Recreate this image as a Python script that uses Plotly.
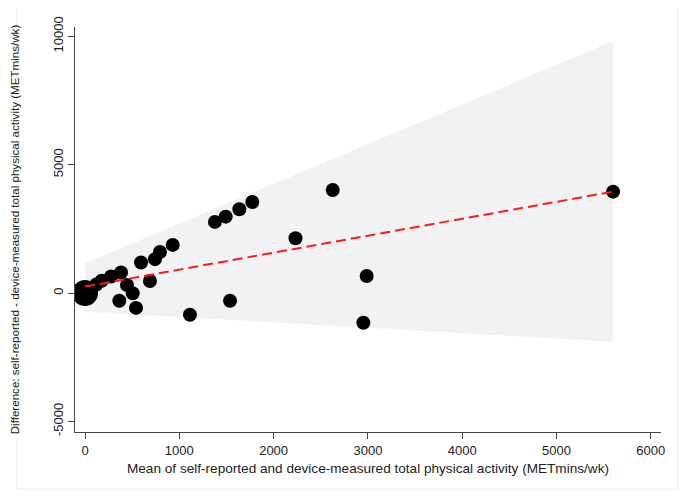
import plotly.graph_objects as go

# ---- data ----
mean_pa = [120, 177, 276, 382, 445, 506, 364, 541, 594, 689, 742, 795, 930,
           1113, 1378, 1492, 1538, 1637, 1774, 2232, 2627, 2952, 2987, 5600]
diff_pa = [330, 480, 640, 800, 310, -12, -305, -580, 1190, 468, 1320, 1600, 1875,
           -845, 2770, 2975, -305, 3262, 3546, 2132, 4014, -1157, 663, 3950]

big_mean = [0]
big_diff = [0]

band_x = [0, 5600]
band_upper = [1160, 9820]
band_lower = [-730, -1900]

fit_x = [0, 5600]
fit_y = [250, 3950]

x_ticks = [0, 1000, 2000, 3000, 4000, 5000, 6000]
x_tick_labels = ["0", "1000", "2000", "3000", "4000", "5000", "6000"]
y_ticks = [-5000, 0, 5000, 10000]
y_tick_labels = ["-5000", "0", "5000", "10000"]

font = "Liberation Sans, Arial, sans-serif"

fig = go.Figure()

fig.add_trace(go.Scatter(
    x=band_x + band_x[::-1],
    y=band_lower + band_upper[::-1],
    fill="toself", fillcolor="#f2f2f2", line=dict(width=0),
    mode="lines", hoverinfo="skip", showlegend=False))

fig.add_trace(go.Scatter(
    x=mean_pa, y=diff_pa, mode="markers",
    marker=dict(color="black", size=14, line=dict(width=0)),
    showlegend=False))

fig.add_trace(go.Scatter(
    x=big_mean, y=big_diff, mode="markers",
    marker=dict(color="black", size=26, line=dict(width=0)),
    showlegend=False))

fig.add_trace(go.Scatter(
    x=fit_x, y=fit_y, mode="lines",
    line=dict(color="#ff1a1a", width=2, dash="10px,5px"),
    showlegend=False))

fig.update_layout(
    width=700, height=500,
    margin=dict(l=67, r=47, t=19, b=76, autoexpand=False),
    plot_bgcolor="white", paper_bgcolor="white",
    font=dict(family=font, size=13, color="#222"),
    hovermode=False,
    xaxis=dict(
        range=[-106, 6108], tickmode="array", tickvals=x_ticks, ticktext=x_tick_labels,
        showline=True, linecolor="#444", linewidth=1,
        ticks="outside", ticklen=6, tickcolor="#444",
        showgrid=False, zeroline=False, automargin=False,
        title=dict(text="Mean of self-reported and device-measured total physical activity (METmins/wk)",
                   standoff=6, font=dict(size=13.6)),
    ),
    yaxis=dict(
        range=[-5417, 10366], tickmode="array", tickvals=y_ticks, ticktext=y_tick_labels,
        tickangle=-90,
        showline=True, linecolor="#444", linewidth=1,
        ticks="outside", ticklen=6, tickcolor="#444",
        showgrid=False, zeroline=False, automargin=False,
        title=dict(text="Difference: self-reported - device-measured total physical activity (METmins/wk)",
                   standoff=32, font=dict(size=11.6)),
    ),
    shapes=[dict(type="rect", xref="paper", yref="paper",
                 x0=-0.099, x1=1.029, y0=-0.141, y1=1.05,
                 line=dict(color="#e4eced", width=1), layer="below")],
)

fig.write_html("out.html")
